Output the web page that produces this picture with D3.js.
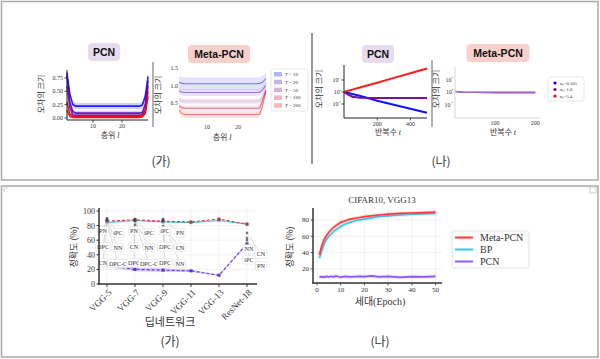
<!DOCTYPE html>
<html><head><meta charset="utf-8">
<script src="https://cdn.jsdelivr.net/npm/d3@7"></script>
<style>
body{margin:0;background:#fff}
svg{display:block}
text{font-family:"Liberation Serif",serif;fill:#333}
.kr{font-family:"Noto Sans CJK KR",sans-serif}
.bold{font-family:"Liberation Sans",Arial,sans-serif;font-weight:bold;fill:#111}
</style></head><body>
<svg id="c" width="600" height="359"></svg>
<script>
// ---------------- DATA ----------------
// (가) top: error magnitude per layer
const layers = [1,2,3,4,8,14,20,26,27,28,29];
const tLabels = ["10","20","50","100","200"];
const pcnT10  = [0.85,0.45,0.25,0.22,0.22,0.22,0.22,0.22,0.24,0.40,0.78];
const pcnT20  = [0.80,0.30,0.12,0.09,0.09,0.09,0.09,0.09,0.10,0.25,0.70];
const pcnT50  = [0.60,0.20,0.06,0.05,0.05,0.05,0.05,0.05,0.06,0.15,0.60];
const pcnT100 = [0.30,0.08,0.03,0.02,0.02,0.02,0.02,0.02,0.03,0.10,0.50];
const pcnT200 = [0.15,0.03,0.01,0.01,0.01,0.01,0.01,0.01,0.02,0.08,0.40];
const pcnStd  = [0.02,0.015,0.01,0.008,0.006];
const metaT10  = [1.10,1.06,1.05,1.05,1.05,1.05,1.05,1.05,1.06,1.10,1.20];
const metaT20  = [0.85,0.81,0.80,0.80,0.80,0.80,0.80,0.80,0.81,0.88,1.00];
const metaT50  = [0.60,0.56,0.55,0.55,0.55,0.55,0.55,0.55,0.56,0.70,0.90];
const metaT100 = [0.42,0.36,0.35,0.35,0.35,0.35,0.35,0.35,0.36,0.60,0.85];
const metaT200 = [0.30,0.19,0.17,0.17,0.17,0.17,0.17,0.17,0.18,0.45,0.85];
const metaStd  = [0.18,0.10,0.07,0.07,0.10];
const pcnYTicks = [0,0.25,0.5,0.75];
const metaYTicks = [0.5,1.0,1.5];
const layerTicks = [10,20];

// (나) top: error magnitude over iterations (log10 values)
const iterT = [0,25,50,100,200,300,400,500];
const alphaLabels = ["α₀=0.105","α₀=1.0","α₀=5.4"];
const pcnLogBlue   = [2,1.3,0.5,-1,-4.5,-7.5,-10.5,-13.5];
const pcnLogPurple = [2,0,-1.5,-2.3,-2.5,-2.5,-2.5,-2.5];
const pcnLogRed    = [2,2.9,3.8,5.5,9,12.6,16.1,19.6];
const iterM = [0,10,20,50,100,150,200];
const metaLogBlue   = [0.25,0.05,-0.1,-0.15,-0.15,-0.15,-0.15];
const metaLogPurple = [0.25,0.05,-0.1,-0.15,-0.15,-0.15,-0.15];
const metaLogRed    = [0.25,0.05,-0.1,-0.15,-0.15,-0.15,-0.15];
const pcnLogTicks = [11,2,-7];
const metaLogTicks = [5,0,-5];
const iterTicksP = [200,400];
const iterTicksM = [100,200];

// bottom (가): accuracy per network
const nets = ["VGG-5","VGG-7","VGG-9","VGG-11","VGG-13","ResNet-18"];
const accMeta = [86,88,86,85,89,82];
const accBP   = [84,87,85,84,87,82];
const accPCN  = [26,20,19,18,12,55];
const accPCNStd = [3,2.5,2.5,1.5,1,2];
const accTicks = [0,20,40,60,80,100];
const annNets = ["VGG-5","VGG-7","VGG-9","ResNet-18"];
const annLabels = [["PN","iPC","DPC","NN","CN","DPC-C"],
                   ["PN","iPC","CN","NN","DPC","DPC-C"],
                   ["iPC","PN","DPC","CN","DPC","NN"],
                   ["NN","CN","iPC","PN"]];
const annAcc = [[90,89,88,88,87,86],
                [89,88,81,88,87,86],
                [88,89,87,79,77,86],
                [55,70,63,60]];

// bottom (나): accuracy per epoch
const epochs = [1,2,3,4,5,6,7,8,9,10,12,14,16,18,20,23,26,30,35,40,45,50];
const epMeta = [37,48,56,61,65,68,71,73,75,77,79,81,82,83,84,85,86,87,88,88.5,89,89.5];
const epBP   = [33,43,51,56,60,63,66,68,70,72,75,77,79,80,81,82.5,84,85,86,87,87.5,88];
const epPCN  = [10,10.5,10,10.8,10.2,11,10.3,11.5,10.4,10,10.8,10.2,10.6,11,10.5,11.6,10.4,10.8,9.8,10.6,10.3,10.8];
const epTicks = [0,10,20,30,40,50];
const epYTicks = [20,40,60,80];
const legendNames = ["Meta-PCN","BP","PCN"];

// ---------------- DRAW ----------------
const svg = d3.select("#c");
svg.append("rect").attr("width",600).attr("height",359).attr("fill","#fff");

function L(x1,y1,x2,y2,c,w){return svg.append("line").attr("x1",x1).attr("y1",y1).attr("x2",x2).attr("y2",y2).attr("stroke",c||"#333").attr("stroke-width",w||1);}
function T(x,y,s,size,anchor,cls){return svg.append("text").attr("x",x).attr("y",y).attr("font-size",size+"px").attr("text-anchor",anchor||"middle").attr("class",cls||null).text(s);}
function TR(x,y,s,size,cls){return svg.append("text").attr("transform",`translate(${x},${y}) rotate(-90)`).attr("font-size",size+"px").attr("text-anchor","middle").attr("class",cls||"kr").text(s);}
function badge(cx,cy,w,h,s,fill){
  svg.append("rect").attr("x",cx-w/2).attr("y",cy-h/2).attr("width",w).attr("height",h).attr("rx",4).attr("fill",fill);
  T(cx,cy+3.7,s,10.5,"middle","bold");
}
function supText(x,y,base,exp,size){
  const t=svg.append("text").attr("x",x).attr("y",y).attr("font-size",size+"px").attr("text-anchor","end");
  t.append("tspan").text(base);
  t.append("tspan").attr("dy",-2.5).attr("font-size",(size*0.7)+"px").text(exp);
  return t;
}
const supMap={"-":"⁻","0":"⁰","1":"¹","2":"²","3":"³","4":"⁴","5":"⁵","6":"⁶","7":"⁷","8":"⁸","9":"⁹"};

// frames
svg.append("rect").attr("x",1.5).attr("y",1.5).attr("width",596.5).attr("height",178.5).attr("fill","none").attr("stroke","#a9a9a9").attr("stroke-width",1.5);
svg.append("rect").attr("x",1.5).attr("y",186).attr("width",596.5).attr("height",171).attr("fill","none").attr("stroke","#a9a9a9").attr("stroke-width",1.5);
L(4,188,4,192,"#ccc",1);L(4,188,8,188,"#ccc",1);
svg.append("rect").attr("x",590).attr("y",187).attr("width",6).attr("height",6).attr("fill","none").attr("stroke","#ccc");
L(312,33,312,164,"#555",1.2);
L(153,62,153,127,"#666",1);
L(432,60,432,127,"#666",1);

const tColors = ["#0000ff","#4000bf","#800080","#bf0040","#ff0000"];

// ===== (가) PCN =====
{
  const x = d3.scaleLinear().domain([0,30]).range([64,151]);
  const y = d3.scaleLinear().domain([-0.04,0.9]).range([120,70]);
  badge(104,52,32,18,"PCN","#e6dcee");
  const series=[pcnT10,pcnT20,pcnT50,pcnT100,pcnT200];
  series.forEach((s,i)=>{
    const area=d3.area().x((d,j)=>x(layers[j])).y0(d=>y(Math.max(d-pcnStd[i]*3,-0.035))).y1(d=>y(d+pcnStd[i]*3));
    svg.append("path").datum(s).attr("d",area).attr("fill",tColors[i]).attr("opacity",0.18);
  });
  series.forEach((s,i)=>{
    const line=d3.line().x((d,j)=>x(layers[j])).y(d=>y(d));
    svg.append("path").datum(s).attr("d",line).attr("fill","none").attr("stroke",tColors[i]).attr("stroke-width",1.6).attr("opacity",0.85);
  });
  L(67,70,67,120,"#222",1);L(67,120,148,120,"#222",1);
  pcnYTicks.forEach(v=>{L(64.5,y(v),67,y(v),"#222",0.8);T(63,y(v)+2,v.toFixed(2),6,"end");});
  layerTicks.forEach(v=>{L(x(v),120,x(v),122.5,"#222",0.8);T(x(v),127.5,v,6);});
  const xl=T(110,138,"층위 ",8,"middle","kr");xl.append("tspan").attr("font-style","italic").attr("font-family","Liberation Serif").text("l");
  TR(44,94,"오차의 크기",8);
}
// ===== (가) Meta-PCN =====
{
  const x = d3.scaleLinear().domain([0,30]).range([176,269]);
  const y = d3.scaleLinear().domain([0,1.5]).range([120.5,68]);
  badge(219,54,62,18,"Meta-PCN","#f7cfcb");
  const series=[metaT10,metaT20,metaT50,metaT100,metaT200];
  series.forEach((s,i)=>{
    const area=d3.area().x((d,j)=>x(layers[j])).y0(d=>y(d-metaStd[i])).y1(d=>y(d+metaStd[i]));
    svg.append("path").datum(s).attr("d",area).attr("fill",tColors[i]).attr("opacity",0.11);
  });
  series.forEach((s,i)=>{
    const line=d3.line().x((d,j)=>x(layers[j])).y(d=>y(d));
    svg.append("path").datum(s).attr("d",line).attr("fill","none").attr("stroke",tColors[i]).attr("stroke-width",1.1).attr("opacity",i==2?0.15:0.5);
  });
  metaYTicks.forEach(v=>T(178,y(v)+2,v.toFixed(1),6,"end"));
  layerTicks.forEach(v=>T(x(v),128.5,v,6));
  const xl=T(222,140,"층위 ",8,"middle","kr");xl.append("tspan").attr("font-style","italic").attr("font-family","Liberation Serif").text("l");
  TR(161,95,"오차의 크기",8);
  // legend
  svg.append("rect").attr("x",271).attr("y",69).attr("width",37).attr("height",42).attr("rx",2).attr("fill","#fff").attr("stroke","#ddd").attr("stroke-width",0.7);
  tLabels.forEach((s,i)=>{
    svg.append("rect").attr("x",274).attr("y",72+i*7.8).attr("width",8).attr("height",4.5).attr("fill",tColors[i]).attr("opacity",0.3);
    const t=svg.append("text").attr("x",285).attr("y",76+i*7.8).attr("font-size","5px");
    t.append("tspan").attr("font-style","italic").text("T");t.append("tspan").text(" = "+s);
  });
}
// ===== (나) PCN =====
{
  const x = d3.scaleLinear().domain([0,500]).range([344,427]);
  const y = d3.scaleLog().domain([Math.pow(10,-17.5),Math.pow(10,22.25)]).range([118,65]);
  badge(378,54,32,18,"PCN","#e6dcee");
  const ser=[[pcnLogBlue,"#1010ff"],[pcnLogPurple,"#7a0f9a"],[pcnLogRed,"#ff1a1a"]];
  ser.forEach(([s,c])=>{
    const line=d3.line().x((d,j)=>x(iterT[j])).y(d=>y(Math.pow(10,d)));
    svg.append("path").datum(s).attr("d",line).attr("fill","none").attr("stroke",c).attr("stroke-width",2);
  });
  L(344,65,344,118,"#222",1);L(344,118,427,118,"#222",1);
  pcnLogTicks.forEach(e=>{const yy=y(Math.pow(10,e));L(341.5,yy,344,yy,"#222",0.8);supText(341,yy+2,"10",String(e).split("").map(c=>supMap[c]).join(""),6);});
  iterTicksP.forEach(v=>{L(x(v),118,x(v),120.5,"#222",0.8);T(x(v),125.5,v,6);});
  const xl=T(388,135,"반복수 ",8,"middle","kr");xl.append("tspan").attr("font-style","italic").attr("font-family","Liberation Serif").text("t");
  TR(322,89,"오차의 크기",8);
}
// ===== (나) Meta-PCN =====
{
  const x = d3.scaleLinear().domain([0,212]).range([455,540]);
  const y = d3.scaleLog().domain([Math.pow(10,-10.4),1e10]).range([118,67]);
  badge(498,53,63,18,"Meta-PCN","#f7cfcb");
  const ser=[[metaLogBlue,"#6a5cd8"],[metaLogRed,"#c060b0"],[metaLogPurple,"#a766c9"]];
  ser.forEach(([s,c])=>{
    const line=d3.line().x((d,j)=>x(iterM[j])).y(d=>y(Math.pow(10,d)));
    svg.append("path").datum(s).attr("d",line).attr("fill","none").attr("stroke",c).attr("stroke-width",1.5);
  });
  L(455,67,455,118,"#ccc",0.8);L(455,118,540,118,"#ccc",0.8);
  metaLogTicks.forEach(e=>{const yy=y(Math.pow(10,e));supText(453,yy+2,"10",String(e).split("").map(c=>supMap[c]).join(""),6);});
  iterTicksM.forEach(v=>T(x(v),125,v,6));
  const xl=T(503,135,"반복수 ",8,"middle","kr");xl.append("tspan").attr("font-style","italic").attr("font-family","Liberation Serif").text("t");
  TR(439,89,"오차의 크기",8);
  svg.append("rect").attr("x",548).attr("y",77).attr("width",36).attr("height",24).attr("rx",2).attr("fill","#fff").attr("stroke","#ddd").attr("stroke-width",0.7);
  const dc=["#0000ff","#800080","#ff0000"];
  alphaLabels.forEach((s,i)=>{
    svg.append("circle").attr("cx",555).attr("cy",83+i*6.5).attr("r",1.6).attr("fill",dc[i]);
    T(560,84.8+i*6.5,s,4.6,"start");
  });
}
T(161,166,"(가)",12,"middle","kr");
T(441,166,"(나)",12,"middle","kr");

// ===== bottom (가) =====
{
  const x = d3.scalePoint().domain(nets).range([107,247]);
  const y = d3.scaleLinear().domain([0,100]).range([284,211]);
  nets.forEach(n=>L(x(n),208,x(n),284,"#f0f0f0",0.8));
  accTicks.forEach(v=>L(99,y(v),257,y(v),"#f0f0f0",0.8));
  // PCN band
  const band=d3.area().x((d,i)=>x(nets[i])).y0((d,i)=>y(d-accPCNStd[i])).y1((d,i)=>y(d+accPCNStd[i]));
  svg.append("path").datum(accPCN).attr("d",band).attr("fill","#a58cf5").attr("opacity",0.45);
  const line=d3.line().x((d,i)=>x(nets[i])).y(d=>y(d));
  svg.append("path").datum(accBP).attr("d",line).attr("fill","none").attr("stroke","#3fc3ea").attr("stroke-width",1.2);
  svg.append("path").datum(accMeta).attr("d",line).attr("fill","none").attr("stroke","#e8413c").attr("stroke-width",1.2).attr("stroke-dasharray","3,2");
  svg.append("path").datum(accPCN).attr("d",line).attr("fill","none").attr("stroke","#6a3ee8").attr("stroke-width",1.2).attr("stroke-dasharray","3,2");
  [[accBP,"#3fc3ea"],[accMeta,"#c83030"],[accPCN,"#5a30d8"]].forEach(([s,c])=>{
    s.forEach((d,i)=>svg.append("rect").attr("x",x(nets[i])-1.5).attr("y",y(d)-1.5).attr("width",3).attr("height",3).attr("fill",c));
  });
  // annotations
  const annDx=[-4,-1,2,1];
  const slotsVGG=[[0,73],[15,70],[0,51],[15,50],[0,29],[15,28]];
  const slotsRes=[[1,48],[13,41],[1,33],[13,25]];
  annNets.forEach((n,k)=>{
    const slots = n==="ResNet-18"?slotsRes:slotsVGG;
    annLabels[k].forEach((lab,j)=>{
      const lx=x(n)+annDx[k]+slots[j][0], ly=y(slots[j][1]);
      L(lx,ly,x(n),y(annAcc[k][j]),"#c8c8c8",0.6);
    });
  });
  annNets.forEach((n,k)=>{
    annAcc[k].forEach(a=>svg.append("rect").attr("x",x(n)-1.2).attr("y",y(a)-1.2).attr("width",2.4).attr("height",2.4).attr("fill","#444").attr("opacity",0.7));
  });
  annNets.forEach((n,k)=>{
    const slots = n==="ResNet-18"?slotsRes:slotsVGG;
    annLabels[k].forEach((lab,j)=>{
      const lx=x(n)+annDx[k]+slots[j][0], ly=y(slots[j][1]);
      const g=svg.append("g");
      const r=g.append("rect");
      const t=g.append("text").attr("x",lx).attr("y",ly+2.2).attr("font-size","6.2px").attr("text-anchor","middle").attr("fill","#555").text(lab);
      const w=t.node().getComputedTextLength()+3;
      r.attr("x",lx-w/2).attr("y",ly-4.2).attr("width",w).attr("height",8.4).attr("rx",1.5).attr("fill","#fff").attr("fill-opacity",0.9).attr("stroke","#ddd").attr("stroke-width",0.6);
    });
  });
  L(99,208,99,284.7,"#333",1.5);L(98.3,284,257,284,"#333",1.5);
  accTicks.forEach(v=>{L(96.5,y(v),99,y(v),"#333",1);T(95,y(v)+3,v,8,"end").attr("font-family","DejaVu Sans");});
  nets.forEach(n=>{
    L(x(n),284,x(n),287,"#333",1);
    svg.append("text").attr("transform",`translate(${x(n)+2},${290}) rotate(-45)`).attr("text-anchor","end").attr("font-size","9px").attr("dy","0.5em").text(n);
  });
  T(170,326,"딥네트워크",11,"middle","kr");
  TR(77,247,"정확도 (%)",9);
  T(170,346,"(가)",12,"middle","kr");
}
// ===== bottom (나) =====
{
  const x = d3.scaleLinear().domain([-1.7,52.7]).range([313,442]);
  const y = d3.scaleLinear().domain([2.8,94.6]).range([283,208]);
  epTicks.forEach(v=>L(x(v),208,x(v),283,"#eeeeee",0.8));
  epYTicks.forEach(v=>L(313,y(v),442,y(v),"#eeeeee",0.8));
  const colors=["#ff3b3b","#3cc6f0","#9055f5"];
  const line=d3.line().x((d,i)=>x(epochs[i])).y(d=>y(d));
  [[epPCN,2],[epBP,1],[epMeta,0]].forEach(([s,c])=>{
    svg.append("path").datum(s).attr("d",line).attr("fill","none").attr("stroke",colors[c]).attr("stroke-width",4).attr("opacity",0.15);
    svg.append("path").datum(s).attr("d",line).attr("fill","none").attr("stroke",colors[c]).attr("stroke-width",1.7);
  });
  L(313,208,313,283.7,"#333",1.5);L(312.3,283,442,283,"#333",1.5);
  epTicks.forEach(v=>{L(x(v),283,x(v),285.5,"#333",0.8);T(x(v),292,v,7);});
  epYTicks.forEach(v=>{L(310.5,y(v),313,y(v),"#333",0.8);T(309,y(v)+2.5,v,7,"end");});
  T(382,203,"CIFAR10, VGG13",9);
  const xl=T(380,305,"세대",10,"middle","kr");xl.append("tspan").attr("font-family","Liberation Serif").text("(Epoch)");
  TR(293,247,"정확도 (%)",9);
  T(380,346,"(나)",12,"middle","kr");
  svg.append("rect").attr("x",452).attr("y",231).attr("width",77).attr("height",37).attr("rx",2).attr("fill","#fff").attr("stroke","#ddd").attr("stroke-width",0.8);
  legendNames.forEach((s,i)=>{
    L(455,237.5+i*12,473,237.5+i*12,colors[i],2);
    T(480,241+i*12,s,10,"start");
  });
}
</script></body></html>
